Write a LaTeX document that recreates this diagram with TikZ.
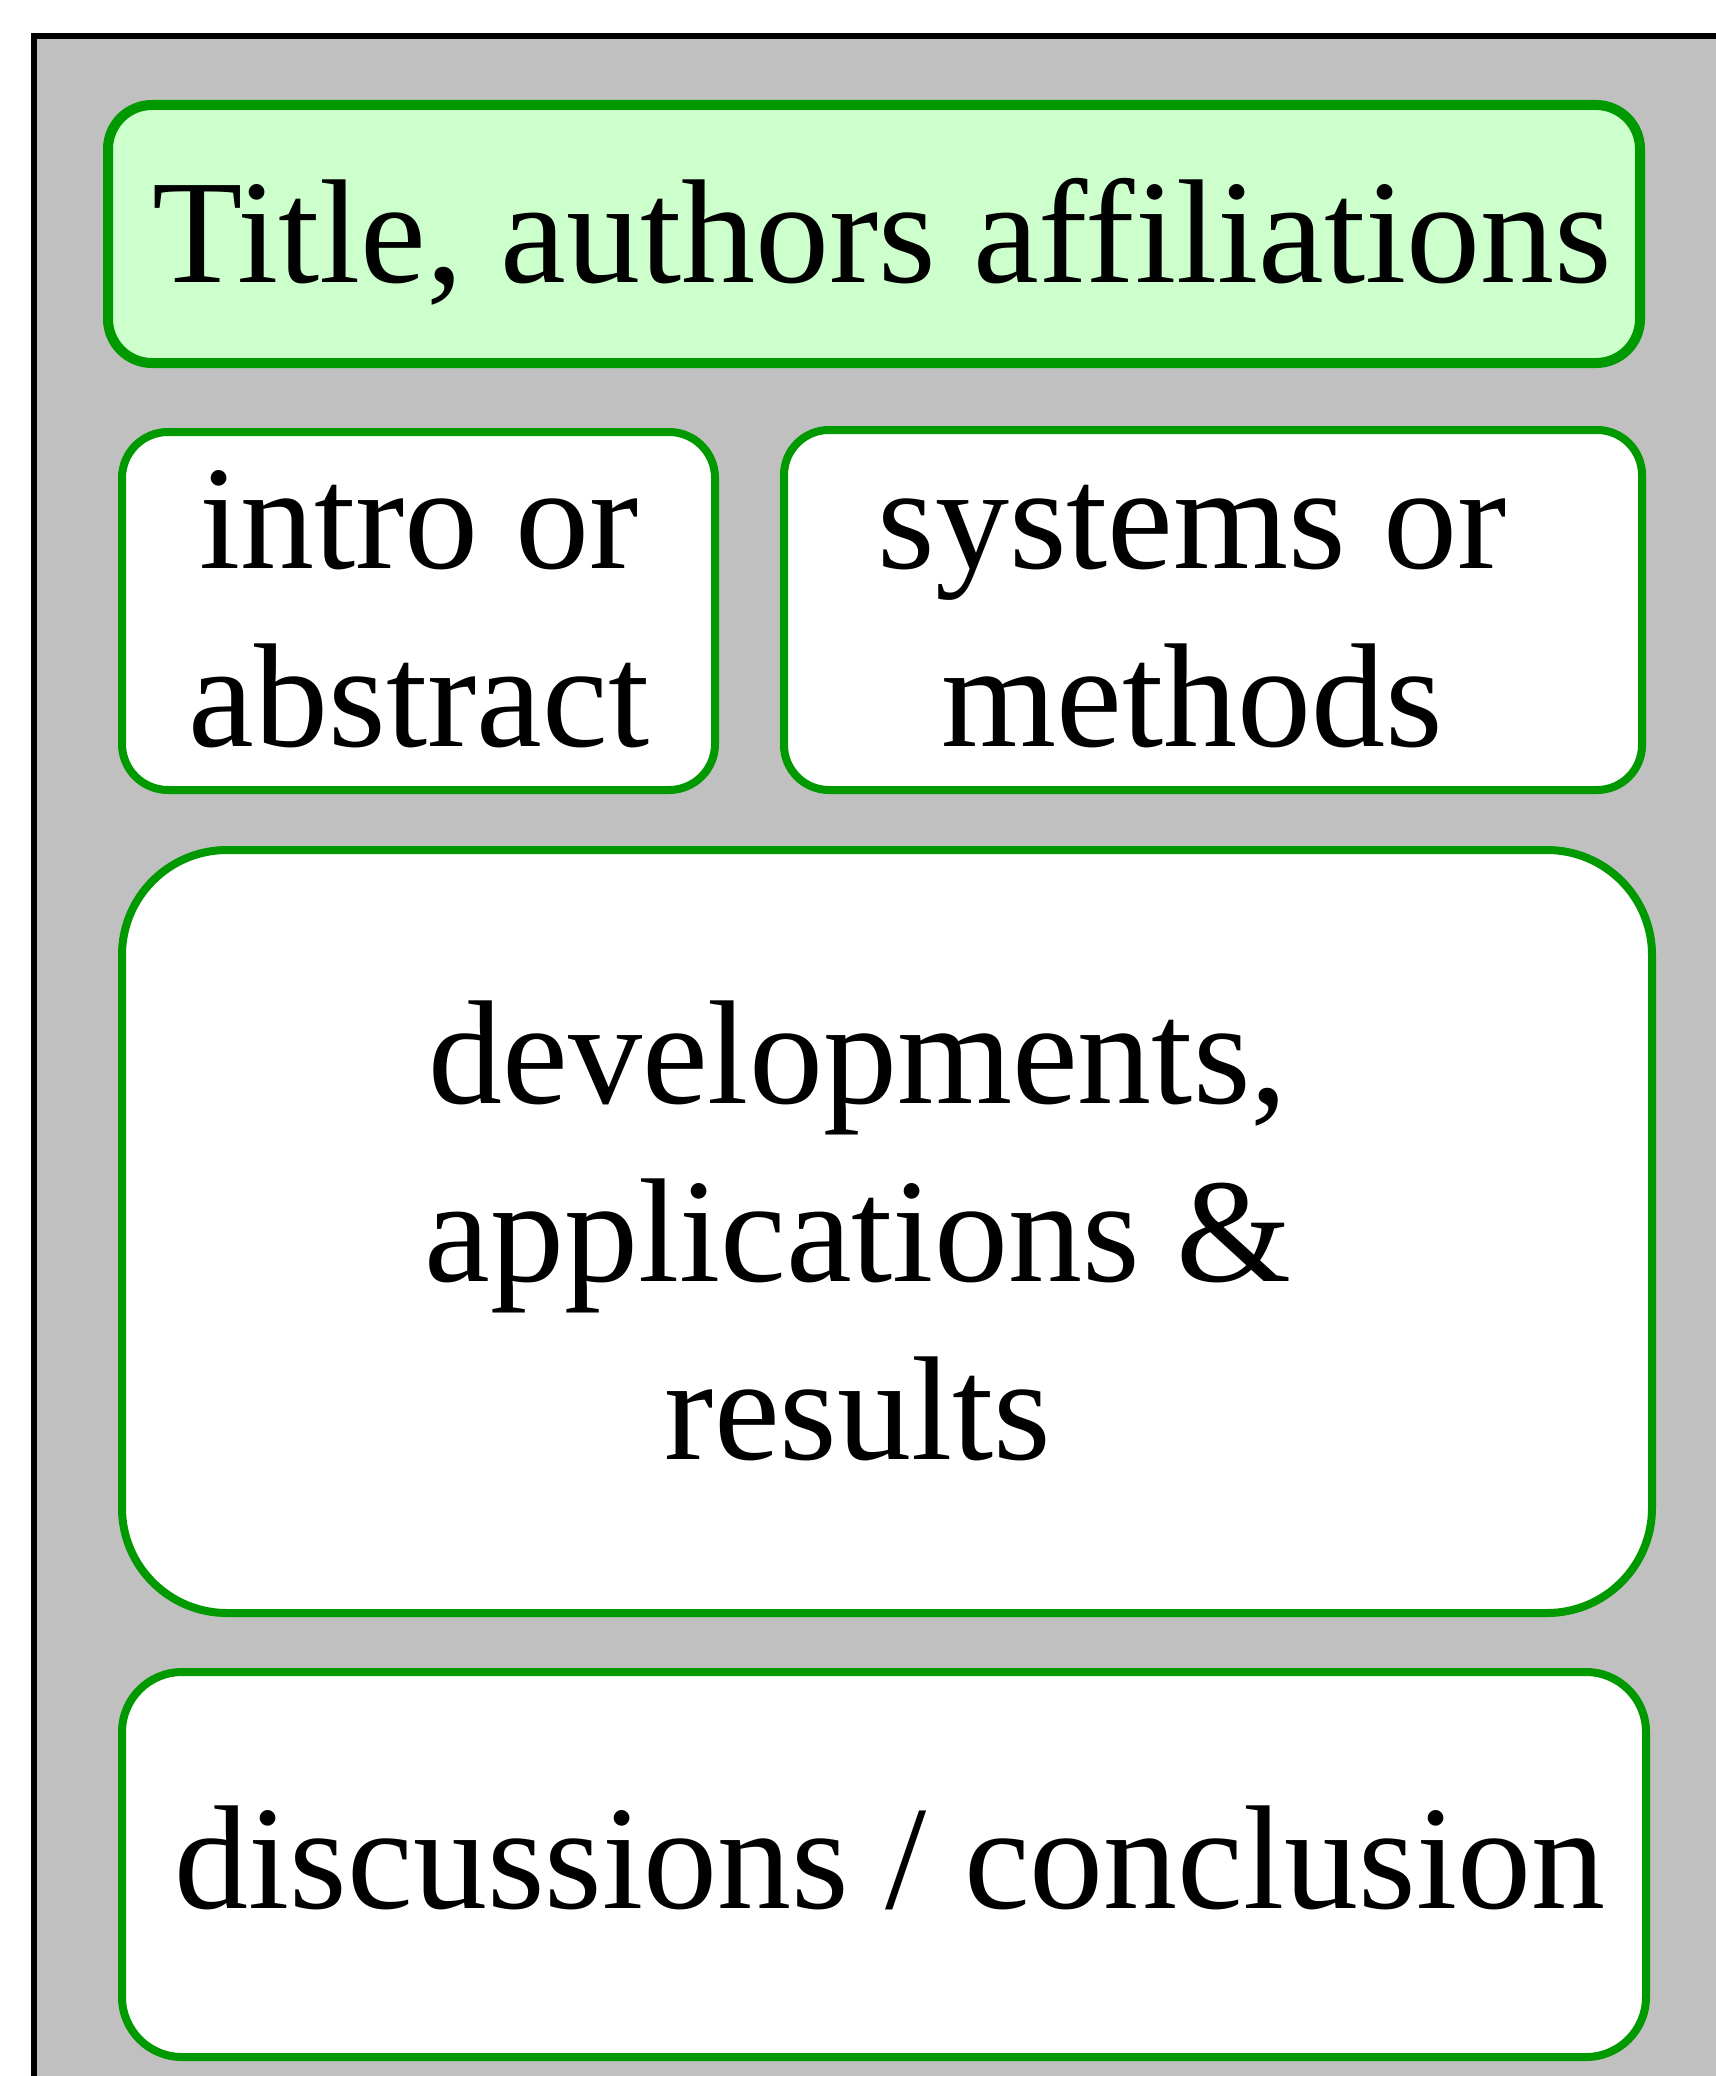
\documentclass[tikz,border=0pt]{standalone}
\usepackage{fontspec}
\setmainfont{Liberation Serif}
\definecolor{boxgreen}{RGB}{0,153,0}
\definecolor{titlefill}{RGB}{204,255,204}
\definecolor{panelgray}{RGB}{192,192,192}
\begin{document}
\begin{tikzpicture}[x=0.5pt,y=-0.5pt,
  panel/.style={rectangle, draw=boxgreen, fill=white, line width=4pt, inner sep=0pt},
  lbl/.style={font=\fontsize{74}{89}\selectfont, align=center, inner sep=0pt, text=black}]
\useasboundingbox (0,0) rectangle (1716,2076);
\clip (0,0) rectangle (1716,2076);
\draw[fill=panelgray, line width=3pt] (33.5,36.5) rectangle (1760,2120);
% boxes
\node[panel, fill=titlefill, line width=5pt, rounded corners=22pt,
      minimum width=766pt, minimum height=129pt] (title) at (874,234) {};
\node[panel, rounded corners=23pt, minimum width=296.5pt, minimum height=179pt] (intro) at (418.5,611) {};
\node[panel, rounded corners=22.5pt, minimum width=429pt, minimum height=180pt] (systems) at (1213,610) {};
\node[panel, rounded corners=52.5pt, minimum width=765pt, minimum height=381.5pt] (dev) at (887,1231.5) {};
\node[panel, rounded corners=30pt, minimum width=762pt, minimum height=192.5pt] (disc) at (884,1864.5) {};
% labels
\node[lbl] (titleT) at (882,246.4) {\strut Title, authors affiliations\strut};
\node[lbl] (introT) at (419,621.9) {\strut intro or\\abstract\strut};
\node[lbl] (systemsT) at (1192,621.9) {\strut systems or\\methods\strut};
\node[lbl] (devT) at (858,1245.9) {\strut developments,\\applications \&\\results\strut};
\node[lbl] (discT) at (890,1872.4) {\strut discussions / conclusion\strut};
\end{tikzpicture}
\end{document}
